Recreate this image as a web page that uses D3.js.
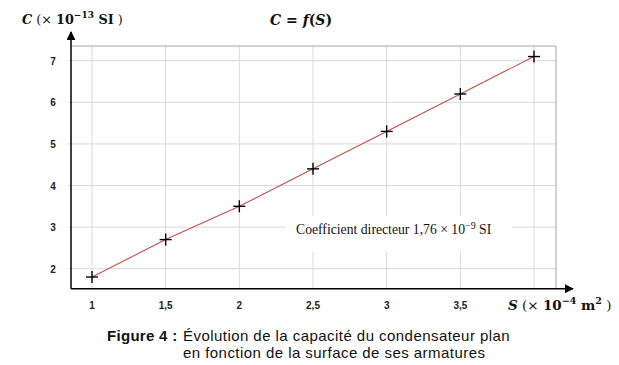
<!DOCTYPE html>
<html><head><meta charset="utf-8">
<script src="https://cdn.jsdelivr.net/npm/d3@7"></script>
<style>
body{margin:0;background:#fff;}
svg{display:block;}
</style></head>
<body>
<svg id="chart" width="619" height="365"></svg>
<script>
const surfaceS = [1, 1.5, 2, 2.5, 3, 3.5, 4];
const capacityC = [1.8, 2.7, 3.5, 4.4, 5.3, 6.2, 7.1];
const xTicks = [1, 1.5, 2, 2.5, 3, 3.5, 4];
const xTickLabels = ["1", "1,5", "2", "2,5", "3", "3,5", ""];
const yTicks = [2, 3, 4, 5, 6, 7];

(function () {
const svg = d3.select("#chart");
const x = d3.scaleLinear().domain([1, 4]).range([92, 534]);
const y = d3.scaleLinear().domain([2, 7]).range([268.7, 60.7]);
const pLeft = 71, pRight = 556, pTop = 46, pBottom = 288.7;

// gridlines
const g = svg.append("g");
g.selectAll(".vg").data(xTicks).join("line")
  .attr("x1", d => x(d)).attr("x2", d => x(d)).attr("y1", pTop).attr("y2", pBottom)
  .attr("stroke", "#d9d9d9").attr("stroke-width", 1);
g.selectAll(".hg").data(yTicks).join("line")
  .attr("x1", pLeft - 3).attr("x2", pRight).attr("y1", d => y(d)).attr("y2", d => y(d))
  .attr("stroke", "#d9d9d9").attr("stroke-width", 1);
// frame top/right
svg.append("line").attr("x1", pLeft).attr("x2", pRight).attr("y1", pTop).attr("y2", pTop).attr("stroke", "#a6a6a6");
svg.append("line").attr("x1", pRight).attr("x2", pRight).attr("y1", pTop).attr("y2", pBottom).attr("stroke", "#a6a6a6");

// white box for the annotation
svg.append("rect").attr("x", 286).attr("y", 216).attr("width", 226).attr("height", 36).attr("fill", "#fff");

// axes with arrows
svg.append("defs").append("marker").attr("id", "arr").attr("viewBox", "0 0 10 10")
  .attr("refX", 9).attr("refY", 5).attr("markerWidth", 6).attr("markerHeight", 6)
  .attr("orient", "auto").append("path").attr("d", "M0,0 L10,5 L0,10 z").attr("fill", "#000");
svg.append("line").attr("x1", pLeft).attr("x2", pLeft).attr("y1", pBottom).attr("y2", 32)
  .attr("stroke", "#000").attr("stroke-width", 1.5).attr("marker-end", "url(#arr)");
svg.append("line").attr("x1", pLeft).attr("x2", 573).attr("y1", pBottom).attr("y2", pBottom)
  .attr("stroke", "#000").attr("stroke-width", 1.5).attr("marker-end", "url(#arr)");

// tick labels
svg.selectAll(".xt").data(xTicks.map((d, i) => ({v: d, l: xTickLabels[i]}))).join("text")
  .attr("x", d => x(d.v)).attr("y", 309).attr("text-anchor", "middle")
  .attr("font-family", "Liberation Sans, Arial, sans-serif").attr("font-size", 10).attr("font-weight", "bold")
  .attr("fill", "#222").text(d => d.l);
svg.selectAll(".yt").data(yTicks).join("text")
  .attr("x", 53).attr("y", d => y(d) + 4).attr("text-anchor", "middle")
  .attr("font-family", "Liberation Sans, Arial, sans-serif").attr("font-size", 10).attr("font-weight", "bold")
  .attr("fill", "#222").text(d => d);

// data line
const pts = surfaceS.map((s, i) => [s, capacityC[i]]);
svg.append("path").datum(pts)
  .attr("d", d3.line().x(d => x(d[0])).y(d => y(d[1])))
  .attr("fill", "none").attr("stroke", "#c0504d").attr("stroke-width", 1.1);
// plus markers
const mk = svg.selectAll(".pt").data(pts).join("g")
  .attr("transform", d => `translate(${x(d[0])},${y(d[1])})`);
mk.append("line").attr("x1", -6).attr("x2", 6).attr("stroke", "#000").attr("stroke-width", 1.4);
mk.append("line").attr("y1", -6).attr("y2", 6).attr("stroke", "#000").attr("stroke-width", 1.4);

// annotation
const serif = "Liberation Serif, Times New Roman, serif";
const ann = svg.append("text").attr("x", 296).attr("y", 234).attr("font-family", serif).attr("font-size", 13.7).attr("fill", "#111");
ann.append("tspan").text("Coefficient directeur 1,76 × 10");
ann.append("tspan").attr("dy", -5).attr("font-size", 10).text("−9");
ann.append("tspan").attr("dy", 5).text(" SI");

const mserif = "DejaVu Serif, serif";
// y title
const yt = svg.append("text").attr("x", 22).attr("y", 24).attr("font-family", mserif).attr("font-size", 12.8).attr("fill", "#111");
yt.append("tspan").attr("font-weight", "bold").attr("font-style", "italic").text("C");
yt.append("tspan").text(" (× ");
yt.append("tspan").attr("font-weight", "bold").text("10");
yt.append("tspan").attr("font-weight", "bold").attr("dy", -6).attr("font-size", 9).text("−13");
yt.append("tspan").attr("font-weight", "bold").attr("dy", 6).text(" SI");
yt.append("tspan").text(" )");

// main title
const mt = svg.append("text").attr("x", 270).attr("y", 25).attr("font-family", mserif).attr("font-size", 14).attr("fill", "#111")
  .attr("font-weight", "bold");
mt.append("tspan").attr("font-style", "italic").text("C");
mt.append("tspan").text(" = ");
mt.append("tspan").attr("font-style", "italic").text("f");
mt.append("tspan").text("(");
mt.append("tspan").attr("font-style", "italic").text("S");
mt.append("tspan").text(")");

// x title
const xt = svg.append("text").attr("x", 508).attr("y", 310).attr("font-family", mserif).attr("font-size", 13.5).attr("fill", "#111");
xt.append("tspan").attr("font-weight", "bold").attr("font-style", "italic").text("S");
xt.append("tspan").text(" (× ");
xt.append("tspan").attr("font-weight", "bold").text("10");
xt.append("tspan").attr("font-weight", "bold").attr("dy", -6).attr("font-size", 9.5).text("−4");
xt.append("tspan").attr("font-weight", "bold").attr("dy", 6).text(" m");
xt.append("tspan").attr("font-weight", "bold").attr("dy", -6).attr("font-size", 9.5).text("2");
xt.append("tspan").attr("dy", 6).text(" )");

// caption
const sans = "Liberation Sans, Arial, sans-serif";
svg.append("text").attr("x", 107).attr("y", 341).attr("font-family", sans).attr("font-size", 15)
  .attr("letter-spacing", 0.3).attr("font-weight", "bold").attr("fill", "#111").text("Figure 4 :");
svg.append("text").attr("x", 183).attr("y", 341).attr("font-family", sans).attr("font-size", 15)
  .attr("letter-spacing", 0.45).attr("fill", "#111").text("Évolution de la capacité du condensateur plan");
svg.append("text").attr("x", 183).attr("y", 358).attr("font-family", sans).attr("font-size", 15)
  .attr("letter-spacing", 0.45).attr("fill", "#111").text("en fonction de la surface de ses armatures");
})();
</script>
</body></html>
